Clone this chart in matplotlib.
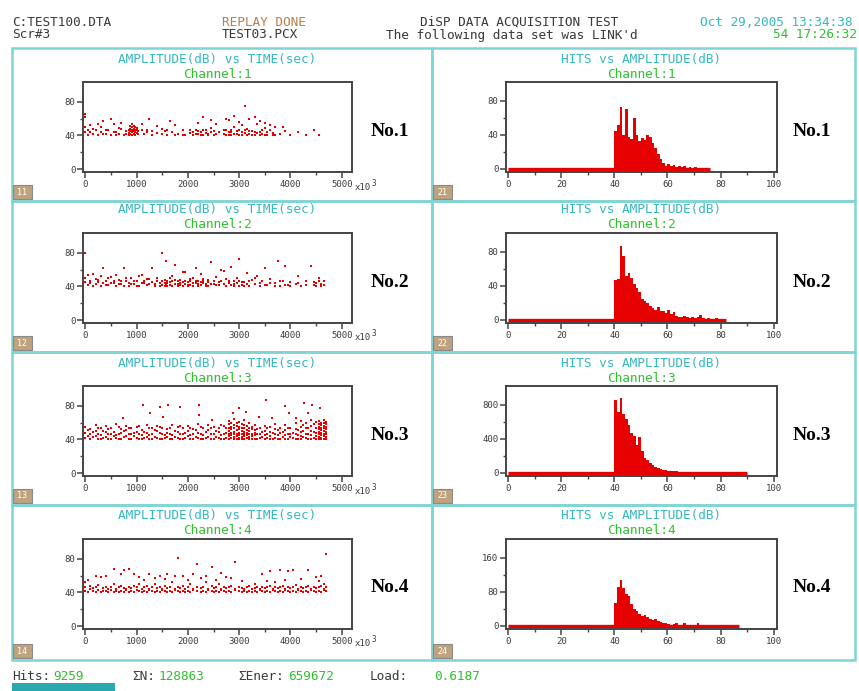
import numpy as np
import matplotlib.pyplot as plt
from matplotlib.patches import Rectangle

plt.rcParams['font.family'] = 'DejaVu Sans Mono'

# amplitude (dB) vs time (x10^3 s), grouped as (time, [amplitudes at that time])
ch1_cols = [
    (0, [44, 50, 62, 66]), (50, [41, 47]), (100, [44, 52]), (150, [42, 48]), (200, [46]),
    (250, [41, 53]), (300, [44, 50]), (350, [57, 42]), (400, [42, 47]), (450, [47]),
    (500, [41, 60]), (550, [53, 44]), (600, [44, 41]), (650, [42, 49]), (700, [48, 55]),
    (750, [41]), (800, [45, 42]), (850, [43, 47, 41]), (880, [42, 45, 48, 51]),
    (910, [41, 44, 47, 50, 53]), (940, [42, 45, 48, 51]), (970, [41, 44, 47, 50]),
    (1000, [43, 46, 49]), (1030, [42, 45]), (1100, [53, 47]), (1150, [42]), (1200, [47, 44]),
    (1250, [60]), (1300, [41, 45]), (1400, [51, 43]), (1500, [42, 48]), (1550, [45]),
    (1600, [41, 47]), (1650, [57]), (1700, [44]), (1750, [52, 41]), (1800, [42]),
    (1900, [46, 41]), (1950, [41]), (2050, [43, 47]), (2100, [41, 44]), (2150, [47, 42]),
    (2200, [42, 45, 55]), (2250, [41, 44, 40]), (2300, [41, 46, 62]), (2350, [46, 43]),
    (2400, [42, 40]), (2450, [49, 44, 58]), (2500, [41, 45]), (2550, [53, 42]), (2600, [44]),
    (2700, [42, 47]), (2750, [47, 60, 41]), (2800, [41, 44, 58]), (2850, [44, 41, 47]),
    (2900, [50, 42, 63]), (2950, [42, 45]), (3000, [46, 41, 56]), (3050, [41, 44, 52]),
    (3113, [43, 75, 47]), (3150, [48, 41]), (3200, [42, 45, 60]), (3250, [45, 41]),
    (3300, [41, 44, 62]), (3350, [53, 43]), (3400, [44, 41, 57]), (3450, [42, 46]),
    (3500, [49, 41, 55]), (3550, [41, 44]), (3600, [46, 52]), (3650, [43, 41]),
    (3700, [41, 50]), (3800, [42]), (3850, [50]), (3900, [45]), (4000, [41]),
    (4150, [44]), (4300, [41]), (4450, [46]), (4550, [41]),
]
ch2_cols = [
    (0, [80, 45, 50]), (50, [42, 53]), (100, [47, 44]), (150, [55, 41]), (200, [43, 49]),
    (250, [48, 45]), (300, [41, 52]), (350, [62, 44]), (400, [46, 42]), (450, [42, 50]),
    (500, [51, 44]), (550, [44, 47]), (600, [41, 54]), (650, [48, 43]), (700, [43, 46]),
    (750, [62, 41]), (800, [46, 50]), (850, [41, 44]), (900, [50, 43]), (950, [43, 47]),
    (1000, [47, 41]), (1050, [41, 52]), (1100, [54, 44]), (1150, [44, 47]), (1200, [42, 49]),
    (1250, [49, 43]), (1300, [62, 45]), (1350, [43, 41]), (1400, [46, 50]), (1450, [41, 44]),
    (1500, [80, 42, 47]), (1550, [44, 41, 48]), (1580, [70, 43]), (1600, [47, 40, 44]),
    (1650, [42, 45, 50]), (1700, [52, 41, 46]), (1750, [66, 43, 48]), (1800, [43, 40, 46]),
    (1850, [48, 42, 44]), (1900, [41, 45, 57]), (1950, [57, 43, 47]), (2000, [45, 40, 42]),
    (2050, [42, 46, 49]), (2100, [50, 44, 41]), (2150, [62, 44, 47]), (2200, [43, 41, 46]),
    (2250, [55, 45, 42]), (2300, [46, 44, 49]), (2350, [41, 43]), (2400, [48, 40, 45]),
    (2450, [69, 43]), (2500, [43, 47]), (2550, [51, 42]), (2600, [42, 45]), (2650, [46, 59]),
    (2700, [58, 43]), (2750, [41, 49]), (2800, [47, 44]), (2850, [63, 42]),
    (2900, [43, 40, 46]), (2950, [50, 44]), (3000, [72, 41, 47]), (3050, [42, 45]),
    (3100, [45, 40]), (3150, [56, 43]), (3200, [41, 46]), (3250, [48]), (3300, [43, 50]),
    (3350, [52]), (3400, [41, 44]), (3450, [46]), (3500, [62, 42]), (3550, [42]),
    (3600, [49, 44]), (3700, [44, 41]), (3750, [70]), (3800, [41, 46]), (3850, [47]),
    (3900, [64, 42]), (3950, [42]), (4000, [45, 41]), (4100, [43]), (4150, [52, 44]),
    (4200, [41]), (4300, [46, 42]), (4400, [64]), (4450, [42, 45]), (4500, [44, 41]),
    (4550, [50, 46]), (4600, [41, 43]), (4650, [46, 42]),
]
ch3_cols = [
    (0, [42, 48, 55]), (50, [44, 51]), (100, [41, 46, 52]), (150, [43, 49]),
    (200, [44, 50, 57]), (250, [41, 47, 54]), (300, [40, 45, 53]), (350, [42, 50]),
    (400, [43, 49, 56]), (450, [40, 46, 52]), (500, [41, 47, 54]), (550, [44, 49]),
    (600, [42, 45, 58]), (650, [41, 47, 55]), (700, [40, 48, 52]), (740, [65]),
    (750, [43, 50]), (800, [44, 51, 56]), (850, [40, 46, 53]), (900, [41, 46, 53]),
    (950, [44, 48]), (1000, [42, 49, 55]), (1050, [41, 47, 56]), (1100, [40, 45, 51]),
    (1130, [81]), (1150, [42, 49]), (1200, [43, 48, 57]), (1250, [40, 45, 53]),
    (1260, [71]), (1300, [41, 47, 53]), (1350, [43, 51]), (1400, [42, 50, 56]),
    (1450, [78, 41, 48, 55]), (1500, [40, 46, 54]), (1515, [67]), (1550, [42, 45]),
    (1600, [43, 48, 52]), (1610, [81]), (1650, [40, 47, 54]), (1700, [41, 45, 57]),
    (1750, [43, 50]), (1800, [42, 49, 55]), (1840, [79]), (1850, [41, 46, 56]),
    (1900, [40, 47, 53]), (1950, [42, 48]), (2000, [44, 50, 56]), (2050, [40, 45, 53]),
    (2100, [41, 46, 52]), (2150, [43, 51]), (2200, [42, 48, 58]), (2225, [81, 69]),
    (2250, [41, 47, 55]), (2300, [40, 45, 54]), (2350, [42, 49]), (2400, [43, 51, 57]),
    (2450, [40, 46, 54]), (2480, [63]), (2500, [41, 47, 55]), (2550, [43, 50]),
    (2600, [42, 49, 53]), (2650, [41, 45, 57]), (2700, [40, 46, 56]), (2750, [42, 48, 54]),
    (2800, [41, 44, 47, 50, 53, 58, 62]),
    (2850, [42, 45, 48, 52, 55, 60]), (2870, [71]), (2900, [40, 43, 46, 49, 54, 57, 64]),
    (2950, [41, 44, 47, 51, 56, 59]), (3000, [40, 42, 45, 48, 52, 55, 61, 77]),
    (3050, [41, 43, 46, 50, 54, 58]), (3100, [40, 44, 47, 49, 53, 57, 63]),
    (3130, [73]), (3150, [42, 45, 48, 51, 56]), (3200, [40, 43, 46, 50, 54, 59]),
    (3250, [41, 44, 47, 52, 55]), (3300, [40, 45, 48, 51, 57]), (3350, [41, 46, 52]),
    (3390, [67]), (3400, [42, 47, 53]), (3450, [43, 49]), (3500, [41, 45, 50, 56]),
    (3515, [87]), (3550, [42, 47, 53]), (3600, [40, 44, 49, 55]), (3640, [65]),
    (3650, [41, 48]), (3700, [42, 46, 52, 58]), (3750, [40, 45, 51]), (3800, [41, 48, 54]),
    (3850, [43, 49]), (3900, [40, 45, 51, 57, 80]), (3950, [41, 47, 54]), (3970, [71]),
    (4000, [43, 47, 53]), (4050, [42, 48]), (4100, [41, 46, 52, 59, 65]),
    (4150, [40, 45, 51]), (4200, [40, 44, 49, 55, 62]), (4250, [43, 50, 57]), (4260, [83]),
    (4300, [42, 47, 53, 60]), (4350, [71, 41, 46, 54]), (4400, [41, 45, 50, 56, 63]),
    (4420, [81]), (4450, [42, 49, 58]), (4500, [40, 44, 48, 54, 61]),
    (4550, [41, 43, 46, 49, 52, 55, 58, 62]), (4580, [77]),
    (4600, [40, 42, 45, 48, 51, 54, 57, 60]), (4650, [41, 44, 47, 50, 53, 56, 59, 63]),
    (4700, [40, 43, 46, 49, 52, 55, 58, 61]),
]
ch4_cols = [
    (0, [42, 46, 52]), (50, [41, 55]), (100, [44, 48]), (150, [42, 45]), (200, [46, 60, 41]),
    (250, [43, 49]), (300, [41, 58]), (350, [45, 42]), (400, [42, 47, 60]), (450, [44, 41]),
    (500, [43, 46]), (550, [41, 50, 68]), (600, [44, 42]), (650, [46, 41]),
    (700, [42, 48, 62]), (750, [41, 45, 67]), (800, [44, 43]), (850, [41, 46, 68]),
    (900, [45, 42]), (950, [41, 48, 62]), (1000, [43, 46]), (1050, [42, 50, 58]),
    (1100, [41, 44]), (1150, [46, 42, 55]), (1200, [41, 48]), (1250, [44, 43, 62]),
    (1300, [42, 46]), (1350, [41, 50, 57]), (1400, [45, 42]), (1450, [41, 47, 60]),
    (1500, [44, 43]), (1550, [42, 48, 56]), (1600, [41, 45, 62]), (1650, [46, 42]),
    (1700, [41, 52]), (1750, [44, 43, 59]), (1810, [81, 42, 47]), (1850, [41, 45]),
    (1900, [48, 42, 60]), (1950, [44, 41]), (2000, [46, 42, 55]), (2050, [41, 50]),
    (2100, [44, 43, 62]), (2180, [74, 42, 47]), (2250, [41, 45, 57]), (2300, [46, 42]),
    (2350, [41, 52, 60]), (2400, [44, 43]), (2470, [70, 42, 48]), (2500, [41, 45]),
    (2550, [46, 42, 55]), (2600, [41, 50]), (2650, [44, 43, 63]), (2700, [42, 47]),
    (2750, [41, 45, 58]), (2800, [46, 42]), (2850, [41, 48, 57]), (2920, [76, 44, 43]),
    (3000, [42, 46]), (3050, [41, 45, 53]), (3100, [44, 42]), (3150, [46, 41]),
    (3200, [42, 48]), (3250, [41, 44]), (3300, [45, 42, 50]), (3350, [41, 47]),
    (3400, [44, 43]), (3450, [42, 46, 62]), (3500, [41, 45]), (3550, [46, 42, 54]),
    (3600, [41, 48, 66]), (3650, [44, 43]), (3700, [42, 46, 52]), (3750, [41, 45]),
    (3800, [46, 42, 67]), (3850, [41, 48]), (3900, [44, 43, 55]), (3950, [42, 46, 65]),
    (4000, [41, 45]), (4050, [46, 42, 67]), (4100, [41, 49]), (4150, [44, 43]),
    (4200, [42, 46, 56]), (4250, [41, 45]), (4300, [46, 42]), (4350, [41, 48, 67]),
    (4400, [44, 43]), (4450, [42, 46]), (4500, [41, 45, 58]), (4550, [46, 42, 53]),
    (4600, [41, 48, 60]), (4650, [44, 43, 50]), (4700, [42, 46, 86]),
]

# hits per 1 dB bin, starting at 40 dB (bins below 40 dB are empty)
hist_start = 40
hist1 = [45, 52, 73, 40, 70, 38, 35, 60, 40, 33, 36, 34, 40, 38, 30, 25, 18, 12, 7, 4,
         6, 3, 5, 2, 4, 2, 3, 1, 2, 1, 2, 1, 1, 1, 1, 1]
hist2 = [47, 48, 87, 75, 52, 55, 49, 42, 38, 33, 24, 22, 20, 16, 14, 12, 15, 11, 10, 8,
         12, 7, 9, 5, 4, 3, 5, 3, 2, 4, 2, 3, 6, 2, 1, 2, 1, 1, 2, 1, 1, 1]
hist3 = [855, 720, 880, 690, 630, 560, 470, 430, 330, 420, 260, 180, 150, 120, 95, 70,
         60, 45, 38, 30, 25, 20, 18, 20, 12, 15, 10, 8, 6, 5, 4, 3, 3, 2, 2, 2, 1, 1, 1,
         1, 1, 1, 1, 1, 1, 1, 1, 1, 1, 1]
hist4 = [55, 92, 108, 88, 75, 70, 52, 40, 36, 28, 24, 25, 20, 17, 14, 16, 12, 9, 8, 6,
         4, 3, 4, 8, 2, 3, 8, 2, 2, 1, 2, 6, 1, 1, 1, 1, 1, 1, 1, 1, 1, 1, 1, 1, 1, 1, 1]

scatter_data = [ch1_cols, ch2_cols, ch3_cols, ch4_cols]
hist_data = [hist1, hist2, hist3, hist4]
hist_ticks = [(0, 40, 80), (0, 40, 80), (0, 400, 800), (0, 80, 160)]
channels = ['1', '2', '3', '4']

W, H = 859, 691
RED = '#e60000'
TEAL = '#35b8c0'
GREEN = '#2ec02e'
FRAME = '#7fd4d4'
INK = '#3a3a3a'

fig = plt.figure(figsize=(W / 100, H / 100), dpi=100)


def box(x0, y0, x1, y1):
    return [x0 / W, 1 - y1 / H, (x1 - x0) / W, (y1 - y0) / H]


def put(x, y, s, color=INK, size=9.2, **kw):
    kw.setdefault('va', 'center')
    fig.text(x / W, 1 - y / H, s, color=color, fontsize=size, **kw)


def style_axes(ax):
    for sp in ax.spines.values():
        sp.set_color('#444444')
        sp.set_linewidth(1.4)
    ax.tick_params(which='major', direction='out', length=4, width=1.1,
                   colors='#444444', labelsize=6.5, pad=1.5)
    ax.tick_params(which='minor', direction='out', length=2.5, width=1.0, colors='#444444')
    for lab in ax.get_xticklabels() + ax.get_yticklabels():
        lab.set_color(INK)


# header lines
put(12, 22, 'C:TEST100.DTA', ha='left')
put(12, 35, 'Scr#3', ha='left')
put(222, 22, 'REPLAY DONE', color='#b9804a', ha='left')
put(222, 35, 'TEST03.PCX', ha='left')
put(420, 22, 'DiSP DATA ACQUISITION TEST', ha='left')
put(386, 35, "The following data set was LINK'd", ha='left')
put(700, 22, 'Oct 29,2005 13:34:38', color=TEAL, ha='left')
put(773, 35, '54 17:26:32', color=GREEN, ha='left')

row_edges = [48, 201, 352, 505, 660]
col_edges = [12, 432, 855]
axes_tops = [82, 233, 386, 539]

for r in range(4):
    for c in range(2):
        fig.add_artist(Rectangle((col_edges[c] / W, 1 - row_edges[r + 1] / H),
                                 (col_edges[c + 1] - col_edges[c]) / W,
                                 (row_edges[r + 1] - row_edges[r]) / H,
                                 transform=fig.transFigure, fill=False,
                                 ec=FRAME, lw=1.8, zorder=0))
        # small window badge in the lower-left corner of each panel
        bx = col_edges[c] + 1
        by = row_edges[r + 1] - 16
        fig.add_artist(Rectangle((bx / W, 1 - (by + 14) / H), 19 / W, 14 / H,
                                 transform=fig.transFigure, fc='#bfa27e',
                                 ec='#8a8a8a', lw=0.8))
        put(bx + 9.5, by + 7, f'{c + 1}{r + 1}', color='white', size=6, ha='center')

for r in range(4):
    top = axes_tops[r]
    bot = top + 90

    # amplitude vs time
    ax = fig.add_axes(box(83, top, 352, bot))
    t = [tt for tt, amps in scatter_data[r] for _ in amps]
    a = [v for _, amps in scatter_data[r] for v in amps]
    ax.plot(t, a, 's', color=RED, ms=2.1, mew=0)
    ax.set_xlim(-45, 5200)
    ax.set_ylim(-3.5, 103.5)
    ax.set_xticks(range(0, 5001, 1000))
    ax.set_xticks(range(500, 5000, 1000), minor=True)
    ax.set_yticks([0, 40, 80])
    ax.set_yticks([20, 60], minor=True)
    style_axes(ax)
    put(217.5, top - 23, 'AMPLITUDE(dB) vs TIME(sec)', color=TEAL, ha='center')
    put(217.5, top - 8, 'Channel:' + channels[r], color=GREEN, ha='center')
    put(355, bot + 15, 'x10', size=6.5, ha='left')
    put(372, bot + 11, '3', size=5.5, ha='left')
    put(390, top + 49, 'No.' + channels[r], color='black', size=14, ha='center',
        family='Liberation Serif', weight='bold')

    # hits vs amplitude
    ax = fig.add_axes(box(506, top, 777, bot))
    counts = np.concatenate([np.zeros(hist_start), hist_data[r]])
    edges = np.arange(len(counts) + 1)
    ax.stairs(counts, edges, fill=True, color=RED, lw=0)
    ax.hlines(0, edges[0], edges[-1], color=RED, lw=2.4)
    lo, mid, hi = hist_ticks[r]
    span = hi * 1.275
    ax.set_xlim(-0.9, 101.3)
    ax.set_ylim(-span * 0.035, span)
    ax.set_xticks(range(0, 101, 20))
    ax.set_xticks(range(10, 100, 20), minor=True)
    ax.set_yticks([lo, mid, hi])
    ax.set_yticks([mid / 2, (mid + hi) / 2], minor=True)
    style_axes(ax)
    put(641.5, top - 23, 'HITS vs AMPLITUDE(dB)', color=TEAL, ha='center')
    put(641.5, top - 8, 'Channel:' + channels[r], color=GREEN, ha='center')
    put(812, top + 49, 'No.' + channels[r], color='black', size=14, ha='center',
        family='Liberation Serif', weight='bold')

# status line
put(12, 677, 'Hits:', ha='left')
put(53, 677, '9259', color=GREEN, ha='left')
put(132, 677, 'ΣN:', ha='left')
put(159, 677, '128863', color=GREEN, ha='left')
put(238, 677, 'ΣEner:', ha='left')
put(288, 677, '659672', color=GREEN, ha='left')
put(370, 677, 'Load:', ha='left')
put(434, 677, '0.6187', color=GREEN, ha='left')
fig.add_artist(Rectangle((12 / W, 0), 103 / W, 8 / H, transform=fig.transFigure,
                         fc='#2aa8b0', ec='none'))

fig.savefig('out.png', dpi=100)
